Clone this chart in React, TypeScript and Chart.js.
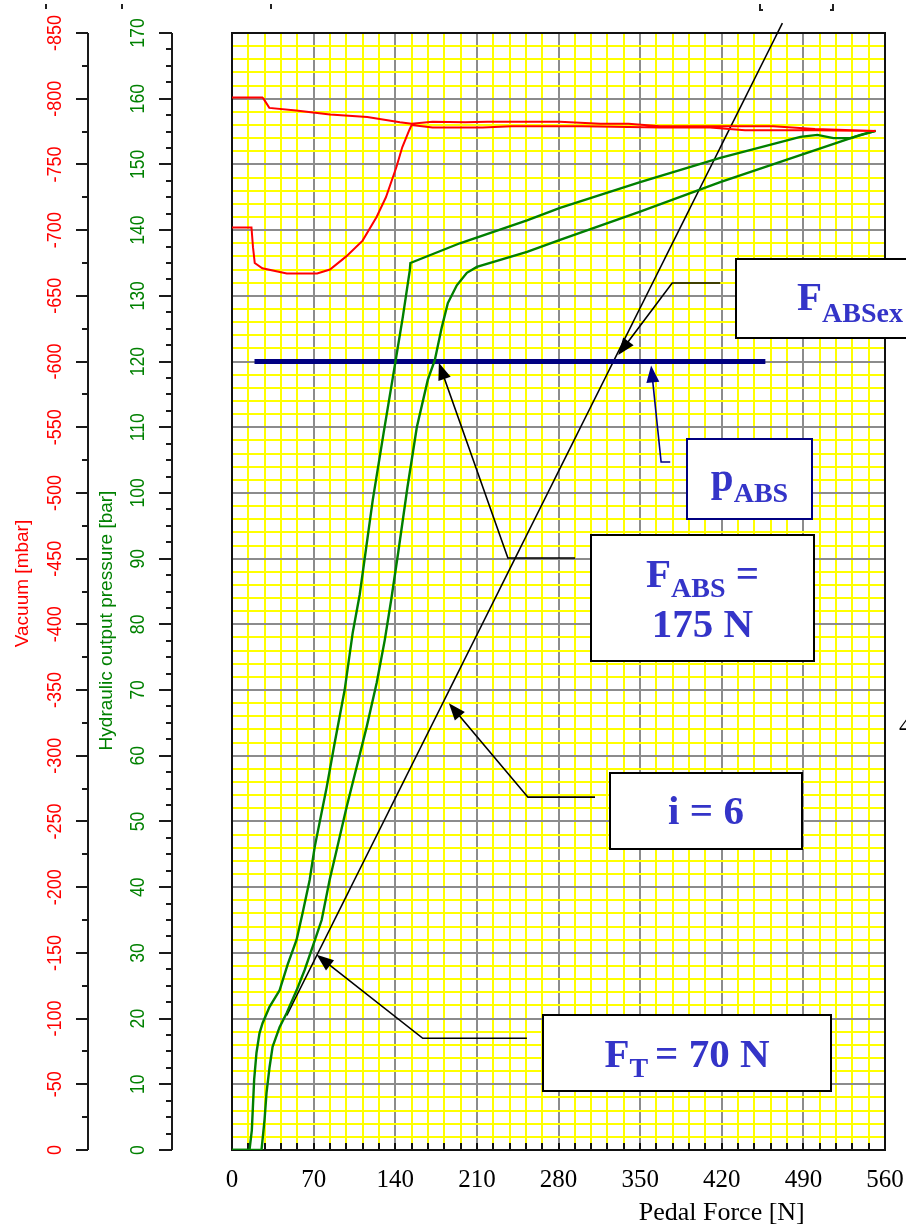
import React, { useEffect, useRef } from 'react';
import { Chart, registerables } from 'chart.js';

Chart.register(...registerables);

// ---------------- data ----------------
const forceTickLabels = [0, 70, 140, 210, 280, 350, 420, 490, 560];
const pressureTickLabels = [0, 10, 20, 30, 40, 50, 60, 70, 80, 90, 100, 110, 120, 130, 140, 150, 160, 170];
const vacuumTickLabels = [0, -50, -100, -150, -200, -250, -300, -350, -400, -450, -500, -550, -600, -650, -700, -750, -800, -850];

// [pedal force N, hydraulic pressure bar]
const releaseCurve: [number, number][] = [
  [0, 0], [15, 0], [17, 3], [19, 10.7], [21, 14.8], [23.6, 17.8], [26.2, 19.3], [32.2, 21.8], [40.8, 24.3],
  [47.7, 28.2], [55.4, 32.0], [60.6, 36.1], [66.6, 41.1], [70.9, 46.1], [81.2, 55.2], [88, 61.9], [96.6, 70.0],
  [103.5, 78.7], [109.5, 84.5], [120.7, 98.9], [130, 109.1], [140, 119.8], [146.5, 126.8], [152.5, 133.9],
  [153, 135], [195.4, 138], [253, 141.5], [281.3, 143.4], [350, 147.3], [418.7, 151], [487.4, 154.2],
  [502, 154.5], [515.8, 154], [530.4, 154], [551.9, 155.1],
];
const applyCurve: [number, number][] = [
  [0, 0], [25.3, 0], [27.9, 4.6], [29.6, 8.7], [32.2, 12.6], [34.8, 15.7], [40.8, 18.7], [46.8, 20.8],
  [55.4, 24.3], [62.3, 27.4], [69.1, 30.9], [76.9, 35], [83.7, 41.1], [89.8, 45.7], [98.3, 52.2],
  [106.9, 58.3], [115.5, 64.4], [124.1, 71.1], [131, 77.6], [136.5, 83.7], [142.5, 90.9], [150.5, 100.9],
  [158.5, 110], [167.9, 117.2], [173.9, 120.2], [179.9, 125.2], [185.1, 128.9], [192.8, 131.6],
  [201.4, 133.5], [210, 134.4], [253, 136.7], [281.3, 138.5], [350, 142.8], [418.7, 147.3],
  [487.4, 151.4], [538.9, 154.5], [551.9, 155.1],
];
// [pedal force N, vacuum mbar]
const vacuumCurve: [number, number][] = [
  [0, -702], [16.7, -702], [18, -687], [19.5, -675], [26, -671], [47, -667], [73, -667], [84, -670],
  [98, -680], [112, -692], [124, -710], [132, -725], [141, -748], [146, -763], [152, -776], [154, -780],
  [172, -778], [215, -778], [240, -779], [300, -779], [367, -778], [410, -778], [440, -776], [464, -776],
  [500, -776], [552, -775.5], [500, -777], [464, -779], [440, -779], [410, -779], [367, -779], [340, -781],
  [316, -781], [281, -782.5], [247, -782.5], [219, -782.5], [200, -782], [172, -782.5], [154, -781],
  [144, -782], [116, -786], [84, -788], [55, -791], [32, -793], [27, -800], [26, -801], [0, -801],
];
const pAbsLine: [number, number][] = [[19.3, 120], [457.4, 120]];
const ratioLine: [number, number][] = [[47, 20.5], [472, 171.5]];

// ---------------- styles / annotations ----------------
const GRID_YELLOW = '#ffff00';
const GRID_GRAY = '#8c8c8c';
const TEXT_BLUE = '#3434c8';

type Run = { t: string; size: number; dy?: number };
type Callout = {
  box: [number, number, number, number];
  border: string;
  textLeft?: number;
  lines: { base: number; runs: Run[] }[];
  path: [number, number][];
  pathColor: string;
};

const callouts: Callout[] = [
  {
    box: [266.7, 20.5, 514.1, 9.0], border: '#000',
    lines: [{ base: 52, runs: [{ t: 'F', size: 41 }, { t: 'T ', size: 28, dy: 10 }, { t: '= 70 N', size: 41 }] }],
    path: [[252.9, 17.0], [163.6, 17.0], [72.6, 29.7]], pathColor: '#000',
  },
  {
    box: [324.2, 57.4, 489.1, 45.8], border: '#000',
    lines: [{ base: 51, runs: [{ t: 'i = 6', size: 41 }] }],
    path: [[311.3, 53.7], [253.8, 53.7], [186, 68]], pathColor: '#000',
  },
  {
    box: [307.9, 93.6, 499.4, 74.4], border: '#000',
    lines: [
      { base: 52, runs: [{ t: 'F', size: 41 }, { t: 'ABS', size: 28, dy: 10 }, { t: ' =', size: 41 }] },
      { base: 102, runs: [{ t: '175 N', size: 41 }] },
    ],
    path: [[294.2, 90.1], [236.6, 90.1], [177.4, 119.8]], pathColor: '#000',
  },
  {
    box: [390.4, 108.2, 497, 96.0], border: '#000080',
    lines: [{ base: 52, runs: [{ t: 'p', size: 41 }, { t: 'ABS', size: 28, dy: 11 }] }],
    path: [[375.8, 104.7], [368.0, 104.7], [359.4, 119.4]], pathColor: '#000080',
  },
  {
    box: [432.4, 135.6, 594.8, 123.6], border: '#000', textLeft: 61,
    lines: [{ base: 51, runs: [{ t: 'F', size: 41 }, { t: 'ABSex', size: 28, dy: 12 }] }],
    path: [[418.7, 131.95], [377.5, 131.95], [331.2, 121.0]], pathColor: '#000',
  },
];

const toXY = (pts: [number, number][]) => pts.map(([x, y]) => ({ x, y }));
const isMult = (v: number, m: number) => Math.abs(v / m - Math.round(v / m)) < 1e-6;

function drawArrow(ctx: CanvasRenderingContext2D, pts: [number, number][], color: string) {
  ctx.save();
  ctx.strokeStyle = color;
  ctx.fillStyle = color;
  ctx.lineWidth = 1.6;
  const n = pts.length;
  const [x1, y1] = pts[n - 2];
  const [x2, y2] = pts[n - 1];
  const ang = Math.atan2(y2 - y1, x2 - x1);
  const L = 17, W = 6.5;
  ctx.beginPath();
  ctx.moveTo(pts[0][0], pts[0][1]);
  for (let i = 1; i < n - 1; i++) ctx.lineTo(pts[i][0], pts[i][1]);
  ctx.lineTo(x2 - Math.cos(ang) * (L - 2), y2 - Math.sin(ang) * (L - 2));
  ctx.stroke();
  const c = Math.cos(ang), s = Math.sin(ang);
  ctx.beginPath();
  ctx.moveTo(x2, y2);
  ctx.lineTo(x2 - L * c + W * s, y2 - L * s - W * c);
  ctx.lineTo(x2 - L * c - W * s, y2 - L * s + W * c);
  ctx.closePath();
  ctx.fill();
  ctx.restore();
}

function drawRot(ctx: CanvasRenderingContext2D, text: string, x: number, y: number, font: string, color: string, stretch = 1) {
  ctx.save();
  ctx.translate(x, y);
  ctx.rotate(-Math.PI / 2);
  ctx.scale(stretch, 1);
  ctx.font = font;
  ctx.fillStyle = color;
  ctx.textAlign = 'center';
  ctx.textBaseline = 'middle';
  ctx.fillText(text, 0, 0);
  ctx.restore();
}

const decorPlugin = {
  id: 'decor',
  beforeDraw(chart: any) {
    const { ctx, width, height } = chart;
    ctx.save();
    ctx.fillStyle = '#fff';
    ctx.fillRect(0, 0, width, height);
    ctx.restore();
  },
  beforeDatasetsDraw(chart: any) {
    const { ctx, chartArea: a } = chart;
    const xs = chart.scales.x;
    ctx.save();
    ctx.strokeStyle = '#111';
    ctx.lineWidth = 2;
    ctx.strokeRect(a.left, a.top, a.right - a.left, a.bottom - a.top);
    ctx.beginPath();
    for (let v = 0; v <= 560; v += 14) {
      const px = Math.round(xs.getPixelForValue(v));
      ctx.moveTo(px, a.bottom);
      ctx.lineTo(px, a.bottom - 7);
    }
    ctx.stroke();
    ctx.restore();
  },
  afterDatasetsDraw(chart: any) {
    const { ctx, chartArea: a } = chart;
    const xs = chart.scales.x;
    const ys = chart.scales.y;
    const vs = chart.scales.y2;
    ctx.save();

    // ---- left axes ----
    const redX = a.left - 144;
    const greenX = a.left - 60;
    ctx.strokeStyle = '#1a1a1a';
    ctx.lineWidth = 2;
    ctx.beginPath();
    ctx.moveTo(redX, vs.getPixelForValue(-850));
    ctx.lineTo(redX, vs.getPixelForValue(0));
    ctx.moveTo(greenX, ys.getPixelForValue(170));
    ctx.lineTo(greenX, ys.getPixelForValue(0));
    for (let v = 0; v >= -850; v -= 25) {
      const py = Math.round(vs.getPixelForValue(v));
      const len = isMult(v, 50) ? 12 : 6;
      ctx.moveTo(redX - len, py);
      ctx.lineTo(redX, py);
    }
    for (let p = 0; p <= 170; p += 2.5) {
      const py = Math.round(ys.getPixelForValue(p));
      const len = isMult(p, 10) ? 13 : 6;
      ctx.moveTo(greenX - len, py);
      ctx.lineTo(greenX, py);
    }
    ctx.stroke();

    const tickFont = '20px "Liberation Sans"';
    vacuumTickLabels.forEach((v) => drawRot(ctx, String(v), redX - 33, vs.getPixelForValue(v), tickFont, '#ff0000', 0.9));
    pressureTickLabels.forEach((p) => drawRot(ctx, String(p), greenX - 34, ys.getPixelForValue(p), tickFont, '#008000', 0.88));
    drawRot(ctx, 'Vacuum [mbar]', redX - 65, vs.getPixelForValue(-425) - 8, '19px "Liberation Sans"', '#ff0000');
    drawRot(ctx, 'Hydraulic output pressure [bar]', greenX - 65, ys.getPixelForValue(85) + 29, '19px "Liberation Sans"', '#008000');

    // ---- x title ----
    ctx.fillStyle = '#000';
    ctx.font = '26px "Liberation Serif"';
    ctx.textAlign = 'center';
    ctx.textBaseline = 'alphabetic';
    ctx.fillText('Pedal Force [N]', xs.getPixelForValue(420), a.bottom + 70);

    // ---- callouts ----
    callouts.forEach((c) => {
      const path = c.path.map(([f, p]) => [xs.getPixelForValue(f), ys.getPixelForValue(p)] as [number, number]);
      drawArrow(ctx, path, c.pathColor);
      const x1 = Math.round(xs.getPixelForValue(c.box[0]));
      const y1 = Math.round(ys.getPixelForValue(c.box[1]));
      const x2 = Math.round(xs.getPixelForValue(c.box[2]));
      const y2 = Math.round(ys.getPixelForValue(c.box[3]));
      ctx.fillStyle = '#fff';
      ctx.fillRect(x1, y1, x2 - x1, y2 - y1);
      ctx.strokeStyle = c.border;
      ctx.lineWidth = 2;
      ctx.strokeRect(x1, y1, x2 - x1, y2 - y1);
      ctx.fillStyle = TEXT_BLUE;
      ctx.textAlign = 'left';
      ctx.textBaseline = 'alphabetic';
      c.lines.forEach((ln) => {
        let total = 0;
        const widths = ln.runs.map((r) => {
          ctx.font = `bold ${r.size}px "Liberation Serif"`;
          const w = ctx.measureText(r.t).width;
          total += w;
          return w;
        });
        let x = c.textLeft !== undefined ? x1 + c.textLeft : (x1 + x2) / 2 - total / 2;
        ln.runs.forEach((r, i) => {
          ctx.font = `bold ${r.size}px "Liberation Serif"`;
          ctx.fillText(r.t, x, y1 + ln.base + (r.dy || 0));
          x += widths[i];
        });
      });
    });

    // ---- cropped remnants at page edges ----
    ctx.fillStyle = '#222';
    ctx.fillRect(45, 4, 2, 5);
    ctx.fillRect(121, 4, 2, 5);
    ctx.fillRect(270, 4, 2, 5);
    ctx.fillRect(759, 4, 2, 6);
    ctx.fillRect(759, 9, 4, 2);
    ctx.fillRect(832, 4, 2, 6);
    ctx.fillRect(830, 9, 4, 2);
    ctx.fillStyle = '#000';
    ctx.font = '26px "Liberation Serif"';
    ctx.textAlign = 'left';
    ctx.fillText('4', 899, 734);
    ctx.restore();
  },
};

export default function App() {
  const ref = useRef<HTMLCanvasElement>(null);
  useEffect(() => {
    const canvas = ref.current;
    if (!canvas) return;
    const chart = new Chart(canvas, {
      type: 'line',
      data: {
        datasets: [
          { label: 'Vacuum', data: toXY(vacuumCurve), yAxisID: 'y2', borderColor: '#ff0000', borderWidth: 2, pointRadius: 0, tension: 0 },
          { label: 'Release', data: toXY(releaseCurve), yAxisID: 'y', borderColor: '#008000', borderWidth: 2.4, pointRadius: 0, tension: 0 },
          { label: 'Apply', data: toXY(applyCurve), yAxisID: 'y', borderColor: '#008000', borderWidth: 2.4, pointRadius: 0, tension: 0 },
          { label: 'pABS', data: toXY(pAbsLine), yAxisID: 'y', borderColor: '#000080', borderWidth: 5, borderCapStyle: 'butt', pointRadius: 0 },
          { label: 'i = 6', data: toXY(ratioLine), yAxisID: 'y', borderColor: '#000', borderWidth: 1.5, pointRadius: 0, clip: false as any },
        ] as any,
      },
      options: {
        responsive: false,
        animation: false,
        devicePixelRatio: 1,
        events: [],
        layout: { padding: { left: 232, right: 21, top: 33, bottom: 0 } },
        plugins: { legend: { display: false }, tooltip: { enabled: false }, title: { display: false } },
        scales: {
          x: {
            type: 'linear', min: 0, max: 560, position: 'bottom',
            afterFit: (s: any) => { s.height = 77; s.paddingLeft = 0; s.paddingRight = 0; },
            ticks: {
              stepSize: 14, autoSkip: false, maxRotation: 0, minRotation: 0, padding: 15, color: '#000',
              font: { family: 'Liberation Serif', size: 25 },
              callback: (v: any) => (forceTickLabels.includes(Number(v)) ? String(v) : ''),
            },
            grid: {
              color: (c: any) => (c.tick && isMult(c.tick.value, 70) ? GRID_GRAY : GRID_YELLOW),
              lineWidth: 2, drawTicks: false,
            },
            border: { display: false },
          },
          y: {
            type: 'linear', min: 0, max: 170, position: 'left',
            afterFit: (s: any) => { s.width = 0; s.paddingTop = 0; s.paddingBottom = 0; },
            ticks: { stepSize: 2, display: false, autoSkip: false },
            grid: {
              color: (c: any) => (c.tick && isMult(c.tick.value, 10) ? GRID_GRAY : GRID_YELLOW),
              lineWidth: 2, drawTicks: false,
            },
            border: { display: false },
          },
          y2: { type: 'linear', min: -850, max: 0, reverse: true, display: false },
        },
      } as any,
      plugins: [decorPlugin],
    });
    return () => chart.destroy();
  }, []);
  return (
    <div style={{ position: 'absolute', left: 0, top: 0, width: 906, height: 1227, background: '#fff' }}>
      <canvas ref={ref} width={906} height={1227} style={{ display: 'block', width: 906, height: 1227 }} />
    </div>
  );
}
